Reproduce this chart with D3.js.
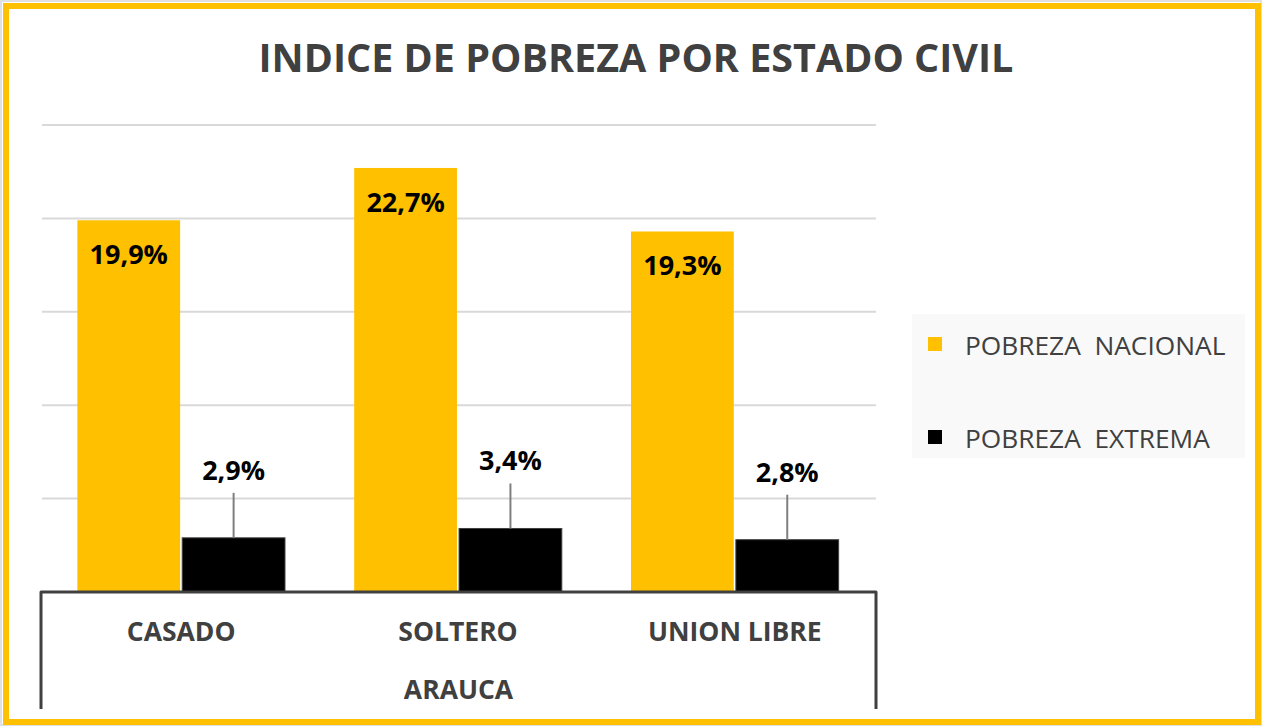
<!DOCTYPE html>
<html>
<head>
<meta charset="utf-8">
<script src="https://cdn.jsdelivr.net/npm/d3@7"></script>
<style>
  body { margin: 0; background: #fff; }
  svg { display: block; }
</style>
</head>
<body>
<div id="chart"></div>
<script>
const categories = ["CASADO", "SOLTERO", "UNION LIBRE"];
const groupLabel = "ARAUCA";
const seriesNames = ["POBREZA  NACIONAL", "POBREZA  EXTREMA"];
const pobrezaNacional = [19.9, 22.7, 19.3];
const pobrezaExtrema = [2.9, 3.4, 2.8];
const yTicks = [0, 5, 10, 15, 20, 25];
const title = "INDICE DE POBREZA POR ESTADO CIVIL";

const colors = ["#FFC000", "#000000"];
const W = 1262, H = 726;
const margin = { top: 125, right: 386, bottom: 134, left: 40 };
const fmt = v => d3.format(".1f")(v).replace(".", ",") + "%";

const svg = d3.select("#chart").append("svg")
    .attr("width", W)
    .attr("height", H);

// frame
svg.append("rect")
    .attr("x", 1).attr("y", 1)
    .attr("width", W - 2).attr("height", H - 2)
    .attr("fill", "none").attr("stroke", "#e0e0e0").attr("stroke-width", 2);
svg.append("rect")
    .attr("x", 6).attr("y", 6)
    .attr("width", W - 10).attr("height", H - 10)
    .attr("fill", "#fff").attr("stroke", colors[0]).attr("stroke-width", 6);

svg.append("text")
    .attr("x", 636).attr("y", 72)
    .attr("text-anchor", "middle")
    .attr("font-family", "Open Sans")
    .attr("font-weight", "bold")
    .attr("font-size", 39.5)
    .attr("fill", "#404040")
    .text(title);

const x0 = d3.scaleBand()
    .domain(categories)
    .range([margin.left, W - margin.right])
    .paddingInner(0.25)
    .paddingOuter(0.135);

const x1 = d3.scaleBand()
    .domain([0, 1])
    .range([0, x0.bandwidth()])
    .paddingInner(0.02);

const y = d3.scaleLinear()
    .domain([0, 25])
    .range([H - margin.bottom, margin.top]);

// gridlines
svg.append("g")
    .selectAll("line")
    .data(yTicks.filter(d => d > 0))
    .join("line")
    .attr("x1", margin.left + 2).attr("x2", W - margin.right)
    .attr("y1", d => y(d)).attr("y2", d => y(d))
    .attr("stroke", "#d9d9d9").attr("stroke-width", 2);

const rows = categories.map((c, i) => ({ cat: c, vals: [pobrezaNacional[i], pobrezaExtrema[i]] }));

const groups = svg.append("g")
    .selectAll("g")
    .data(rows)
    .join("g")
    .attr("transform", d => `translate(${x0(d.cat)},0)`);

groups.selectAll("rect")
    .data(d => d.vals.map((v, s) => ({ v, s })))
    .join("rect")
    .attr("x", d => x1(d.s))
    .attr("y", d => y(d.v))
    .attr("width", x1.bandwidth())
    .attr("height", d => y(0) - y(d.v))
    .attr("fill", d => colors[d.s])
    .attr("stroke", d => d.s === 1 ? "#404040" : "none")
    .attr("stroke-width", 1);

// labels inside yellow bars
groups.append("text")
    .attr("x", x1(0) + x1.bandwidth() / 2)
    .attr("y", d => y(d.vals[0]) + 44)
    .attr("text-anchor", "middle")
    .attr("font-family", "Open Sans")
    .attr("font-weight", "bold")
    .attr("font-size", 27)
    .attr("fill", "#000")
    .text(d => fmt(d.vals[0]));

// labels above black bars with leader lines
groups.append("line")
    .attr("x1", x1(1) + x1.bandwidth() / 2)
    .attr("x2", x1(1) + x1.bandwidth() / 2)
    .attr("y1", d => y(d.vals[1]) - 45)
    .attr("y2", d => y(d.vals[1]))
    .attr("stroke", "#7f7f7f").attr("stroke-width", 2);

groups.append("text")
    .attr("x", x1(1) + x1.bandwidth() / 2)
    .attr("y", d => y(d.vals[1]) - 58)
    .attr("text-anchor", "middle")
    .attr("font-family", "Open Sans")
    .attr("font-weight", "bold")
    .attr("font-size", 27)
    .attr("fill", "#000")
    .text(d => fmt(d.vals[1]));

// multi-level category axis
const axisG = svg.append("g").attr("fill", "none").attr("stroke", "#404040").attr("stroke-width", 3);
const x0L = margin.left + 1, x0R = W - margin.right;
axisG.append("path")
    .attr("d", `M${x0L},${H - 17}V${y(0)}H${x0R}V${H - 17}`)
    .attr("stroke-linejoin", "round");

svg.append("g")
    .selectAll("text")
    .data(categories)
    .join("text")
    .attr("x", d => x0(d) + x0.bandwidth() / 2)
    .attr("y", 641)
    .attr("text-anchor", "middle")
    .attr("font-family", "Open Sans")
    .attr("font-weight", "bold")
    .attr("font-size", 26.5)
    .attr("fill", "#404040")
    .text(d => d);

svg.append("text")
    .attr("x", (x0L + x0R) / 2)
    .attr("y", 699)
    .attr("text-anchor", "middle")
    .attr("font-family", "Open Sans")
    .attr("font-weight", "bold")
    .attr("font-size", 26.5)
    .attr("fill", "#404040")
    .text(groupLabel);

// legend
const legend = svg.append("g").attr("transform", "translate(912,314)");
legend.append("rect")
    .attr("width", 333).attr("height", 144)
    .attr("fill", "#f9f9f9");
const items = legend.selectAll("g")
    .data(seriesNames)
    .join("g")
    .attr("transform", (d, i) => `translate(0,${23 + i * 93})`);
items.append("rect")
    .attr("x", 16).attr("width", 14).attr("height", 14)
    .attr("fill", (d, i) => colors[i]);
items.append("text")
    .attr("x", 53).attr("y", 18)
    .attr("font-family", "Open Sans")
    .attr("font-size", 26.3)
    .attr("fill", "#404040")
    .style("white-space", "pre")
    .text(d => d);
</script>
</body>
</html>
